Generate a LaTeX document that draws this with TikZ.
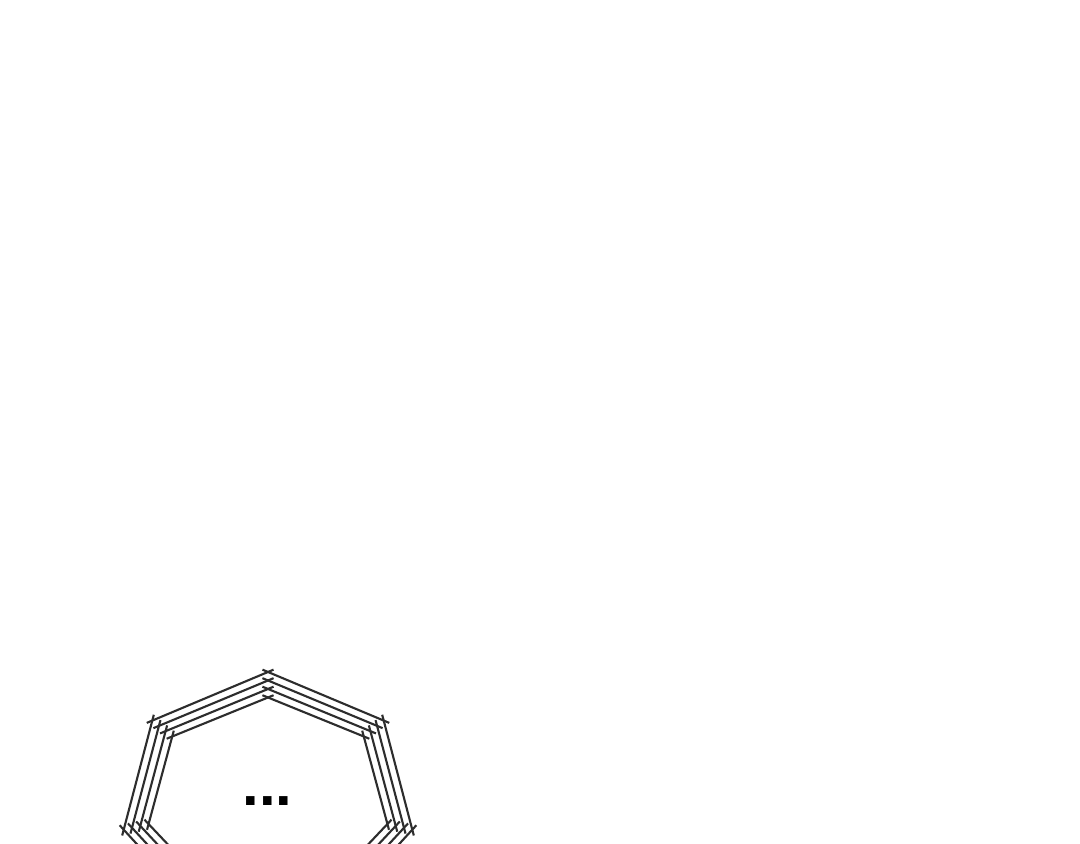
\documentclass[tikz,border=0pt]{standalone}
\usepackage{fontspec}
\setmainfont{Liberation Sans}
\usepackage{tikz}
\usetikzlibrary{calc}
\definecolor{ring}{RGB}{45,45,45}

\begin{document}
\begin{tikzpicture}[x=1cm,y=1cm]
    %% Background
    \useasboundingbox (0,0) rectangle (10.8,8.44);
    \fill[white] (0,0) rectangle (10.8,8.44);
    \clip (0,0) rectangle (10.8,8.44);
    %% Nested heptagons
    \foreach \ring in {0,1,2,3}
    {
        \foreach \side in {0,...,6}
        {
            \draw[draw=ring, line width=0.6pt, shorten <=-0.06cm, shorten >=-0.06cm]
            ( {2.68 + (1.48-0.085*\ring)*cos(90+\side*360/7)}, {0.43 + (1.29-0.085*\ring)*sin(90+\side*360/7)} )
            to ( {2.68 + (1.48-0.085*\ring)*cos(90+(\side+1)*360/7)}, {0.43 + (1.29-0.085*\ring)*sin(90+(\side+1)*360/7)} )
            ;
        }
    }
    %% Dots
    \node[anchor=base, inner sep=0pt, font=\bfseries\fontsize{17}{17}\selectfont] (dots) at (2.675,0.38) {...};
\end{tikzpicture}
\end{document}
